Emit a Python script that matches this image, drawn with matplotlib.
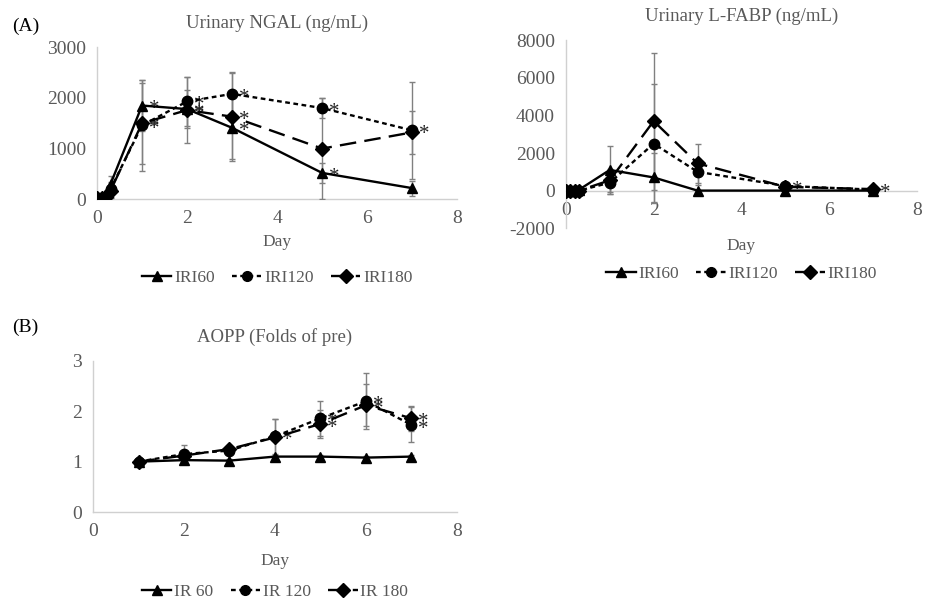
import numpy as np
import matplotlib
matplotlib.use('Agg')
import matplotlib.pyplot as plt
from matplotlib.lines import Line2D

plt.rcParams['font.family'] = ['Liberation Serif', 'DejaVu Serif']
plt.rcParams['axes.unicode_minus'] = False

# ---- data ----
days_a = [0, 0.1, 0.2, 0.3, 1, 2, 3, 5, 7]

ngal_60 = [20, 20, 60, 300, 1850, 1780, 1410, 520, 220]
ngal_120 = [20, 20, 50, 200, 1460, 1930, 2080, 1800, 1360]
ngal_180 = [20, 20, 40, 170, 1500, 1760, 1630, 1000, 1320]
ngal_60_err = [30, 30, 50, 150, 500, 370, 620, 200, 150]
ngal_120_err = [30, 30, 50, 150, 900, 490, 440, 200, 960]
ngal_180_err = [30, 30, 50, 150, 800, 650, 870, 1000, 420]

fabp_60 = [0, 0, 0, 50, 1100, 700, 0, 0, 0]
fabp_120 = [0, 0, 0, 0, 420, 2500, 1000, 250, 50]
fabp_180 = [0, 0, 0, 0, 550, 3700, 1450, 200, 80]
fabp_60_err = [20, 20, 20, 50, 1300, 1300, 50, 30, 20]
fabp_120_err = [20, 20, 20, 50, 600, 3150, 700, 150, 50]
fabp_180_err = [20, 20, 20, 50, 600, 3650, 1050, 150, 80]

days_b = [1, 2, 3, 4, 5, 6, 7]
aopp_60 = [1.0, 1.03, 1.02, 1.1, 1.1, 1.08, 1.1]
aopp_120 = [1.0, 1.15, 1.22, 1.5, 1.86, 2.2, 1.73]
aopp_180 = [1.0, 1.12, 1.25, 1.48, 1.75, 2.12, 1.86]
aopp_60_err = [0.02, 0.03, 0.03, 0.04, 0.04, 0.04, 0.04]
aopp_120_err = [0.02, 0.18, 0.05, 0.35, 0.35, 0.55, 0.35]
aopp_180_err = [0.02, 0.1, 0.05, 0.37, 0.28, 0.42, 0.25]

# points marked with an asterisk: (series index, day)
ngal_stars = [(0, 1), (1, 1), (2, 1), (0, 2), (1, 2), (2, 2), (0, 3), (1, 3), (2, 3),
              (0, 5), (1, 5), (1, 7)]
fabp_stars = [(1, 5), (2, 7)]
aopp_stars = [(1, 4), (1, 5), (2, 5), (1, 6), (2, 6), (1, 7), (2, 7)]

styles = [dict(ls='-', marker='^'),
          dict(ls=(0, (2, 1.5)), marker='o'),
          dict(ls=(0, (7, 3.5)), marker='D')]
grey = '#d0d0d0'
txt = '#595959'


def setup(ax, title, ylim, yticks):
    ax.set_xlim(0, 8)
    ax.set_ylim(*ylim)
    ax.set_xticks([0, 2, 4, 6, 8])
    ax.set_yticks(yticks)
    for s in ['top', 'right']:
        ax.spines[s].set_visible(False)
    for s in ['left', 'bottom']:
        ax.spines[s].set_color(grey)
        ax.spines[s].set_linewidth(1)
    ax.tick_params(length=0, labelsize=14, colors=txt, pad=8)
    ax.set_xlabel('Day', fontsize=12.5, color=txt, labelpad=5)
    ax.set_title(title, fontsize=13.5, color=txt, pad=14)


def draw(ax, x, series, errs, stars, names):
    for i, (y, e) in enumerate(zip(series, errs)):
        ax.errorbar(x, y, yerr=e, color='black', ecolor='#808080', elinewidth=1,
                    capsize=2, capthick=1, lw=1.7, ms=7.5,
                    **styles[i], label=names[i], zorder=3)
    for i, d in stars:
        j = list(x).index(d)
        ax.annotate('*', (d, series[i][j]), xytext=(5, -3), textcoords='offset points',
                    fontsize=15, color='#222222', ha='left', va='center')
    handles = [Line2D([], [], color='black', lw=1.7, ms=7, **styles[i]) for i in range(3)]
    ax.legend(handles, names, loc='upper center', bbox_to_anchor=(0.5, -0.33),
              ncol=3, frameon=False, fontsize=12.5, handlelength=1.7,
              columnspacing=1.0, handletextpad=0.15, labelcolor=txt)


fig = plt.figure(figsize=(9.33, 6.02), dpi=100)

ax1 = fig.add_axes([0.104, 0.669, 0.386, 0.2525])
setup(ax1, 'Urinary NGAL (ng/mL)', (0, 3000), [0, 1000, 2000, 3000])
draw(ax1, days_a, [ngal_60, ngal_120, ngal_180],
     [ngal_60_err, ngal_120_err, ngal_180_err], ngal_stars, ['IRI60', 'IRI120', 'IRI180'])
ax1.get_legend().set_bbox_to_anchor((0.5, -0.36))

ax2 = fig.add_axes([0.6066, 0.621, 0.376, 0.312])
setup(ax2, 'Urinary L-FABP (ng/mL)', (-2000, 8000), [-2000, 0, 2000, 4000, 6000, 8000])
ax2.spines['bottom'].set_position(('data', 0))
ax2.xaxis.labelpad = 14
draw(ax2, days_a, [fabp_60, fabp_120, fabp_180],
     [fabp_60_err, fabp_120_err, fabp_180_err], fabp_stars, ['IRI60', 'IRI120', 'IRI180'])
ax2.get_legend().set_bbox_to_anchor((0.5, -0.12))

ax3 = fig.add_axes([0.0997, 0.1495, 0.390, 0.251])
setup(ax3, 'AOPP (Folds of pre)', (0, 3), [0, 1, 2, 3])
ax3.xaxis.labelpad = 9
draw(ax3, days_b, [aopp_60, aopp_120, aopp_180],
     [aopp_60_err, aopp_120_err, aopp_180_err], aopp_stars, ['IR 60', 'IR 120', 'IR 180'])
ax3.get_legend().set_bbox_to_anchor((0.5, -0.37))

fig.text(0.013, 0.948, '(A)', fontsize=14, color='black')
fig.text(0.013, 0.448, '(B)', fontsize=14, color='black')

fig.savefig('out.png', dpi=100)
